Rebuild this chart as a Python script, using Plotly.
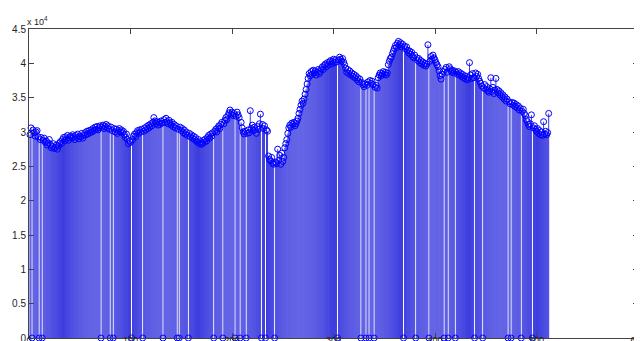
import plotly.graph_objects as go

# sample values (stem heights), x = 1..512
values = [
    29600, 30600, 0, 30300, 29900, 29400, 30000, 30200, 29300, 0,
    28900, 29200, 0, 28800, 29100, 28500, 28700, 28100, 28400, 28900,
    28200, 27700, 27900, 28300, 27600, 27800, 28100, 27500, 28000, 28400,
    28600, 28300, 28900, 29200, 28700, 29300, 29000, 29500, 28800, 29200,
    29400, 29100, 29600, 29300, 28900, 29500, 29200, 29700, 29000, 29400,
    29300, 29800, 29100, 29500, 29900, 29600, 30100, 29700, 30200, 29900,
    30300, 30000, 30500, 30200, 30700, 30400, 30800, 30300, 30600, 30900,
    0, 30700, 31000, 30500, 30800, 31100, 30600, 30900, 30400, 0,
    30700, 30200, 0, 30500, 30000, 30400, 29800, 30200, 30500, 30000,
    30300, 29900, 30100, 29600, 29200, 29700, 28900, 28300, 28700, 28500,
    0, 28900, 29400, 29700, 29300, 29900, 30200, 29800, 30300, 30000,
    30400, 0, 30100, 30600, 30300, 30800, 30500, 31000, 30700, 31200,
    30900, 31400, 32100, 31600, 31200, 31500, 31000, 31400, 31100, 31600,
    31300, 0, 31800, 31400, 32000, 31500, 31200, 31700, 31300, 31000,
    31400, 30800, 31100, 30600, 30900, 0, 30400, 0, 30700, 30200,
    30500, 29900, 30300, 29700, 30000, 29500, 0, 29800, 29300, 29600,
    29100, 29400, 28900, 29200, 28700, 28500, 28900, 28300, 28600, 28200,
    28400, 28800, 28500, 29000, 28700, 29200, 29500, 29100, 29700, 29400,
    29900, 0, 30100, 30400, 30000, 30600, 30900, 30500, 31100, 31400,
    0, 31200, 31700, 32100, 31800, 32400, 32800, 33200, 32600, 32900,
    32400, 32700, 0, 32300, 32900, 32500, 32100, 0, 31400, 30600,
    30000, 29700, 30100, 0, 29800, 30300, 29900, 33100, 30500, 31000,
    30200, 30700, 30300, 29800, 30800, 30400, 31200, 32600, 0, 31100,
    30500, 30900, 0, 30300, 30100, 26500, 26000, 25800, 26300, 25500,
    25300, 0, 25600, 25400, 27500, 25900, 26600, 25300, 26900, 25700,
    26300, 27700, 28300, 28900, 29800, 30600, 31000, 30700, 31300, 31100,
    31400, 30900, 31200, 31600, 32000, 32700, 33300, 33900, 34500, 34200,
    34800, 35500, 36200, 37000, 37800, 38500, 38200, 38800, 38400, 39000,
    38600, 38900, 38300, 38700, 39100, 38500, 38800, 39200, 39500, 39100,
    39700, 39900, 39500, 40100, 39800, 40200, 40400, 39900, 40300, 40600,
    40100, 40500, 40200, 0, 40500, 40900, 40600, 40300, 40700, 40200,
    39800, 39300, 38700, 39100, 38500, 38900, 38300, 38600, 38100, 38400,
    37900, 38200, 37600, 37900, 37300, 37700, 0, 37200, 36900, 36600,
    37000, 0, 36800, 37300, 0, 37500, 37100, 37400, 36900, 0,
    36500, 36800, 36400, 37900, 38300, 38600, 38200, 38500, 38800, 38400,
    38700, 38300, 38600, 39800, 40300, 40700, 40900, 41400, 41800, 42200,
    42600, 42300, 42900, 43200, 42700, 43000, 42400, 42800, 0, 42500,
    42100, 42400, 41900, 41500, 41800, 41300, 41600, 41000, 40800, 41200,
    0, 40800, 40400, 40700, 40100, 40400, 39900, 40200, 39700, 40000,
    39600, 39900, 42700, 0, 40300, 41000, 40600, 41200, 40800, 40500,
    40100, 39800, 39500, 38900, 38200, 37700, 38400, 38800, 0, 39100,
    39400, 38700, 0, 39500, 39200, 38800, 39000, 38600, 38900, 0,
    38700, 38400, 38800, 38300, 38600, 38100, 38400, 37900, 38200, 37700,
    38100, 37600, 37900, 40100, 38300, 37800, 38500, 37900, 0, 38600,
    38100, 38400, 37800, 37400, 37100, 36700, 0, 36400, 36900, 36200,
    36600, 36000, 35800, 36300, 37900, 35900, 36500, 35600, 36100, 37800,
    36200, 35700, 36000, 35400, 35700, 35100, 35400, 34800, 35100, 34500,
    34800, 0, 34400, 34100, 0, 34300, 33900, 34200, 33700, 34000,
    33500, 33800, 33200, 33500, 0, 33000, 33300, 32700, 32400, 31800,
    31500, 31100, 30800, 31200, 32500, 0, 30600, 30900, 30400, 30100,
    30500, 29800, 30200, 29600, 30000, 29500, 31500, 29700, 30100, 29600,
    29900, 32700,
]
xs = list(range(1, len(values) + 1))

x_ticks = [0, 100, 200, 300, 400, 500, 600]
y_ticks = [0, 5000, 10000, 15000, 20000, 25000, 30000, 35000, 40000, 45000]
y_ticktext = ["0", "0.5", "1", "1.5", "2", "2.5", "3", "3.5", "4", "4.5"]

stem_x, stem_y = [], []
for x, v in zip(xs, values):
    stem_x += [x, x, None]
    stem_y += [0, v, None]

fig = go.Figure()
fig.add_trace(go.Scatter(x=stem_x, y=stem_y, mode="lines",
                         line=dict(color="rgb(10,10,215)", width=0.8),
                         hoverinfo="skip", showlegend=False))
fig.add_trace(go.Scatter(x=xs, y=values, mode="markers", cliponaxis=False,
                         marker=dict(symbol="circle-open", size=6,
                                     color="rgb(0,0,255)", line=dict(width=1)),
                         showlegend=False))

axis_common = dict(showgrid=False, zeroline=False, showline=True,
                   linecolor="#444", linewidth=1, mirror="ticks",
                   ticks="inside", ticklen=5, tickcolor="#444",
                   automargin=False)

fig.update_xaxes(range=[0, 600], tickvals=x_ticks, ticklabelstandoff=-7,
                 tickfont=dict(family="Liberation Sans, Arial", size=9, color="#222"),
                 **axis_common)
fig.update_yaxes(range=[0, 45000], tickvals=y_ticks, ticktext=y_ticktext,
                 tickfont=dict(family="Liberation Sans, Arial", size=10, color="#222"),
                 **axis_common)

fig.add_annotation(text="x 10<sup>4</sup>", xref="paper", yref="paper",
                   x=0, y=1, xanchor="left", yanchor="bottom", showarrow=False,
                   font=dict(family="Liberation Sans, Arial", size=9, color="#222"),
                   xshift=-4, yshift=0)

fig.update_layout(width=642, height=341,
                  margin=dict(l=21, r=12, t=21, b=11),
                  paper_bgcolor="white", plot_bgcolor="white")

fig.write_html("out.html")
